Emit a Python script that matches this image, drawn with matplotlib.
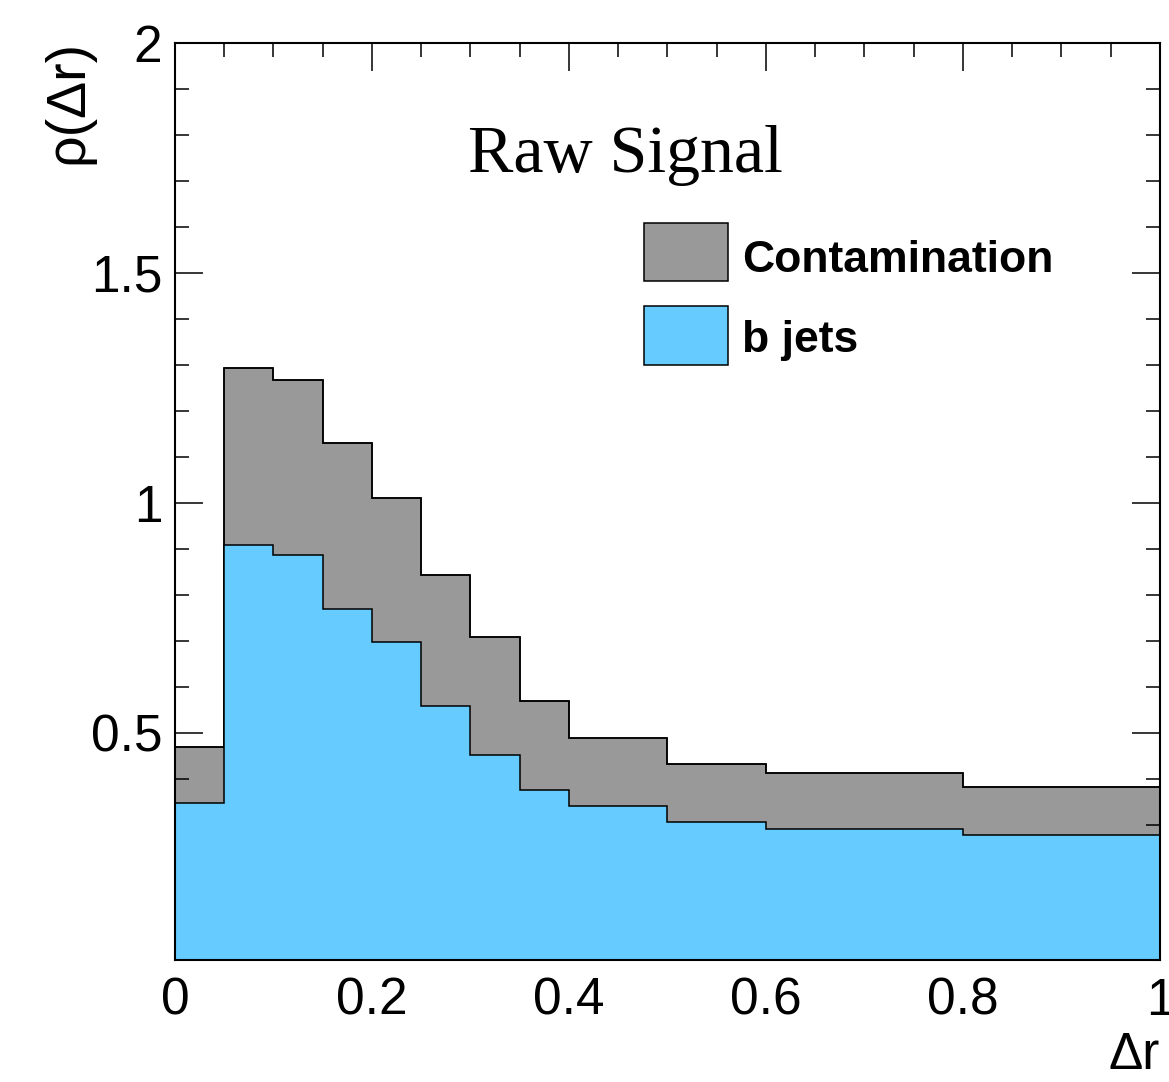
import numpy as np
import matplotlib
matplotlib.use("Agg")
import matplotlib.pyplot as plt
from matplotlib.patches import Rectangle
from matplotlib.ticker import MultipleLocator, FixedLocator

# bin edges in delta r
edges = [0.0, 0.05, 0.1, 0.15, 0.2, 0.25, 0.3, 0.35, 0.4, 0.5, 0.6, 0.8, 1.0]
# b jets component (bottom of the stack)
bjets = [0.348, 0.909, 0.887, 0.770, 0.698, 0.559, 0.452, 0.376, 0.341, 0.307, 0.291, 0.278]
# stacked total (b jets + contamination)
total = [0.470, 1.293, 1.267, 1.130, 1.011, 0.843, 0.709, 0.570, 0.489, 0.433, 0.413, 0.383]
contamination = list(np.array(total) - np.array(bjets))

series_names = ["Contamination", "b jets"]
series_colors = ["#999999", "#66ccff"]
ytick_vals = [0.5, 1.0, 1.5, 2.0]
ytick_labels = ["0.5", "1", "1.5", "2"]
xtick_vals = [0, 0.2, 0.4, 0.6, 0.8, 1.0]
xtick_labels = ["0", "0.2", "0.4", "0.6", "0.8", "1"]

plt.rcParams['font.family'] = ['Liberation Sans', 'DejaVu Sans']

fig = plt.figure(figsize=(11.69, 10.82), dpi=100)
ax = fig.add_axes([0.1497, 0.1128, 0.8426, 0.8475])

stack_top = np.array(bjets) + np.array(contamination)
# gray drawn below the axis ticks, blue drawn above them (like ROOT)
ax.stairs(stack_top, edges, baseline=0, fill=True, facecolor=series_colors[0],
          edgecolor="black", linewidth=1.1, zorder=1)
ax.stairs(stack_top, edges, baseline=None, fill=False, color="black",
          linewidth=1.1, zorder=1.1)
ax.stairs(bjets, edges, baseline=0, fill=True, facecolor=series_colors[1],
          edgecolor="none", zorder=3)
ax.stairs(bjets, edges, baseline=None, fill=False, color="black",
          linewidth=1.1, zorder=3.1)

ax.set_xlim(0, 1)
ax.set_ylim(0.006, 2)
ax.set_axisbelow(False)

for s in ax.spines.values():
    s.set_linewidth(1.5)
    s.set_zorder(5)

ax.yaxis.set_major_locator(FixedLocator(ytick_vals))
ax.set_yticklabels(ytick_labels)
ax.yaxis.set_minor_locator(MultipleLocator(0.1))
ax.xaxis.set_major_locator(FixedLocator(xtick_vals))
ax.set_xticklabels(xtick_labels)
ax.xaxis.set_minor_locator(MultipleLocator(0.05))

ax.tick_params(axis="both", which="both", direction="in", top=True, right=True,
               width=1.1, labelsize=37)
ax.tick_params(axis="both", which="major", length=20)
ax.tick_params(axis="both", which="minor", length=10)
ax.tick_params(axis="x", which="major", pad=12)
ax.tick_params(axis="y", which="major", pad=9)

ax.set_ylabel("\u03c1(\u0394r)", fontsize=40, loc="top")
ax.yaxis.set_label_coords(-0.082, 1.003)
ax.set_xlabel("\u0394r", fontsize=37, loc="right")
ax.xaxis.set_label_coords(1.0, -0.077)

ax.text(0.457, 0.859, "Raw Signal", transform=ax.transAxes, ha="center",
        va="baseline", fontsize=49, family=["Liberation Serif", "DejaVu Serif"],
        zorder=6)

# legend boxes
box_y = [0.740, 0.649]
text_y = [0.750, 0.663]
for name, col, by, ty in zip(series_names, series_colors, box_y, text_y):
    ax.add_patch(Rectangle((0.476, by), 0.085, 0.064, transform=ax.transAxes,
                           facecolor=col, edgecolor="black", linewidth=1.1,
                           zorder=6))
    ax.text(0.576, ty, name, transform=ax.transAxes, ha="left", va="baseline",
            fontsize=32, fontweight="bold", zorder=6)

fig.savefig("out.png", dpi=100)
